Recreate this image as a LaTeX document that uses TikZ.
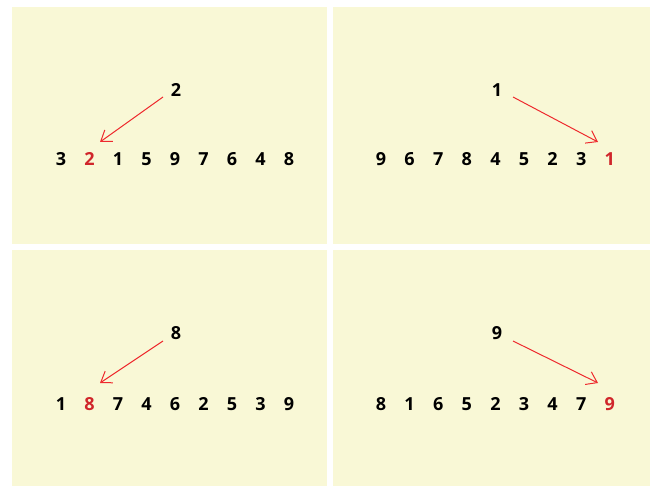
\documentclass[tikz,border=0pt]{standalone}
\usepackage{fontspec}
\setmainfont{Open Sans}
\usetikzlibrary{arrows.meta}
\definecolor{panelbg}{HTML}{F9F8D6}
\definecolor{hired}{HTML}{D0262B}
\definecolor{arrred}{HTML}{EE2A2E}
\tikzset{
  panel/.style={fill=panelbg, draw=none},
  num/.style={font=\fontsize{18}{21}\selectfont\bfseries, text=black, inner sep=0pt, anchor=base},
  hinum/.style={num, text=hired},
  ptr/.style={draw=arrred, line width=1pt, -{Straight Barb[length=10pt,width=14pt,line width=1pt]}},
}
\begin{document}
\begin{tikzpicture}[x=1pt,y=-1pt]
\useasboundingbox (0,0) rectangle (650,486);
\fill[white] (0,0) rectangle (650,486);
\path[panel] (12,7) rectangle (327,244);
\path[panel] (333,7) rectangle (650,244);
\path[panel] (12,250) rectangle (327,486);
\path[panel] (333,250) rectangle (650,486);

% top-left
\node[num] (tlk) at (176,97) {2};
\foreach \v [count=\i] in {3,2,1,5,9,7,6,4,8} {
  \ifnum\i=2 \node[hinum] (tl\i) at ({61+28.5*(\i-1)},166) {\v};
  \else \node[num] (tl\i) at ({61+28.5*(\i-1)},166) {\v}; \fi
}
\coordinate (tla) at (163,97);
\coordinate (tlb) at (100,142);
\draw[ptr] (tla) -- (tlb);

% top-right
\node[num] (trk) at (497,97) {1};
\foreach \v [count=\i] in {9,6,7,8,4,5,2,3,1} {
  \ifnum\i=9 \node[hinum] (tr\i) at ({381+28.6*(\i-1)},166) {\v};
  \else \node[num] (tr\i) at ({381+28.6*(\i-1)},166) {\v}; \fi
}
\coordinate (tra) at (513,97);
\coordinate (trb) at (598,142);
\draw[ptr] (tra) -- (trb);

% bottom-left
\node[num] (blk) at (176,339) {8};
\foreach \v [count=\i] in {1,8,7,4,6,2,5,3,9} {
  \ifnum\i=2 \node[hinum] (bl\i) at ({61+28.5*(\i-1)},410) {\v};
  \else \node[num] (bl\i) at ({61+28.5*(\i-1)},410) {\v}; \fi
}
\coordinate (bla) at (163,341);
\coordinate (blb) at (100,383);
\draw[ptr] (bla) -- (blb);

% bottom-right
\node[num] (brk) at (497,339) {9};
\foreach \v [count=\i] in {8,1,6,5,2,3,4,7,9} {
  \ifnum\i=9 \node[hinum] (br\i) at ({381+28.6*(\i-1)},410) {\v};
  \else \node[num] (br\i) at ({381+28.6*(\i-1)},410) {\v}; \fi
}
\coordinate (bra) at (513,341);
\coordinate (brb) at (598,383);
\draw[ptr] (bra) -- (brb);
\end{tikzpicture}
\end{document}
